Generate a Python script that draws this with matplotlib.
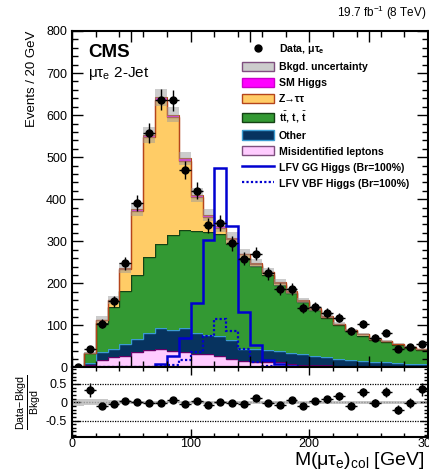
"""CMS LFV H->mu tau_e, 2-jet category: collinear mass with stacked backgrounds
and a (data - bkgd)/bkgd ratio panel underneath."""

import numpy as np
import matplotlib
matplotlib.use("Agg")
import matplotlib.pyplot as plt
from matplotlib.patches import Patch
from matplotlib.lines import Line2D
from matplotlib.ticker import MultipleLocator

plt.rcParams["font.family"] = ["Liberation Sans", "DejaVu Sans"]
plt.rcParams["mathtext.fontset"] = "custom"
plt.rcParams["mathtext.rm"] = "Liberation Sans"
plt.rcParams["mathtext.it"] = "Liberation Sans:italic"
plt.rcParams["mathtext.bf"] = "Liberation Sans:bold"

# ---- data, 10 GeV bins from 0 to 300 ----
bin_edges = np.arange(0, 301, 10)

misid = [0, 5, 19, 24, 27, 36, 41, 44, 39, 36, 33, 31, 28, 21, 16,
         13, 12, 12, 8, 7, 6, 5, 4, 3, 3, 2, 2, 2, 1, 1]
other = [1, 5, 18, 19, 28, 31, 40, 49, 51, 58, 48, 47, 46, 44, 29,
         31, 29, 27, 27, 25, 22, 20, 17, 16, 13, 12, 11, 8, 7, 7]
ttbar = [1, 24, 68, 102, 126, 153, 182, 200, 224, 232, 243, 245, 243, 228, 216,
         198, 180, 158, 141, 123, 108, 92, 79, 67, 60, 51, 47, 44, 39, 33]
ztautau = [0, 1, 8, 15, 54, 153, 285, 343, 281, 166, 81, 35, 15, 13, 8,
           4, 5, 5, 4, 4, 4, 4, 3, 3, 3, 3, 3, 3, 2, 2]
sm_higgs = [0, 0, 1, 1, 2, 3, 5, 6, 6, 5, 5, 4, 4, 3, 2,
            2, 2, 1, 1, 1, 1, 1, 1, 0, 0, 0, 0, 0, 0, 0]
bkg_unc = [0.10, 0.08, 0.08, 0.06, 0.05, 0.04, 0.035, 0.03, 0.03, 0.03, 0.04, 0.04, 0.04, 0.04, 0.04,
           0.04, 0.04, 0.04, 0.04, 0.04, 0.04, 0.04, 0.04, 0.04, 0.04, 0.04, 0.04, 0.04, 0.04, 0.04]

lfv_gg = [2, 2, 2, 2, 2, 2, 2, 9, 28, 70, 154, 303, 474, 336, 133,
          54, 17, 8, 4, 2, 1, 1, 1, 0, 0, 0, 0, 0, 0, 0]
lfv_vbf = [0, 0, 0, 0, 0, 0, 1, 3, 5, 19, 37, 74, 116, 87, 43,
           13, 4, 2, 1, 0, 0, 0, 0, 0, 0, 0, 0, 0, 0, 0]

data = [0, 45, 104, 157, 248, 391, 557, 637, 635, 469, 420, 338, 344, 295, 259,
        271, 224, 187, 187, 142, 144, 129, 118, 87, 103, 71, 83, 44, 49, 55]

# ratio panel, bins 10-300 GeV
ratio = [0.33, -0.11, -0.04, 0.04, 0.02, -0.01, -0.01, 0.05, -0.06, 0.04,
         -0.07, 0.02, -0.02, -0.05, 0.11, -0.01, -0.08, 0.05, -0.10, 0.03,
         0.08, 0.18, -0.09, 0.27, -0.02, 0.28, -0.20, -0.02, 0.35]

# ---- figure ----
fig = plt.figure(figsize=(4.29, 4.74), dpi=100)
ax = fig.add_axes([0.1678, 0.2247, 0.8298, 0.7099])
rax = fig.add_axes([0.1678, 0.0781, 0.8298, 0.1466])

centers = 0.5 * (bin_edges[:-1] + bin_edges[1:])

stack = [
    (misid, "#ffccff", "#660066"),
    (other, "#07335f", "#3b9bd1"),
    (ttbar, "#339933", "#144214"),
    (ztautau, "#ffcc66", "#b5451b"),
    (sm_higgs, "#ff00ff", None),
]
base = np.zeros(len(misid))
for vals, fc, ec in stack:
    top = base + np.array(vals, dtype=float)
    ax.stairs(top, bin_edges, baseline=base, fill=True, color=fc, lw=0)
    if ec:
        ax.stairs(top, bin_edges, color=ec, lw=1.0)
    base = top

total = base
ax.stairs(total, bin_edges, color="#b5451b", lw=0.8)
unc = np.array(bkg_unc)
ax.stairs(total * (1 + unc), bin_edges, baseline=total * (1 - unc), fill=True,
          color="#9a9a9a", alpha=0.5, lw=0)

ax.stairs(lfv_gg, bin_edges, color="#0000d0", lw=1.8)
ax.stairs(lfv_vbf, bin_edges, color="#0000d0", lw=1.6, linestyle=(0, (1, 1)))

d = np.array(data, dtype=float)
ax.errorbar(centers, d, xerr=5, yerr=np.sqrt(d), fmt="o", color="black",
            ms=5, elinewidth=1, capsize=0)

ax.set_xlim(0, 300)
ax.set_ylim(0, 800)
ax.set_xticklabels([])
ax.set_ylabel("Events / 20 GeV", fontsize=9.5, loc="top", labelpad=6)

ax.text(0.045, 0.935, "CMS", transform=ax.transAxes, fontsize=13.5,
        fontweight="bold", va="center")
ax.text(0.045, 0.875, r"$\mathregular{μτ_e}$ 2-Jet", transform=ax.transAxes,
        fontsize=11, va="center")
fig.text(0.995, 0.972, r"19.7 fb$^{\mathregular{-1}}$ (8 TeV)", ha="right",
         va="center", fontsize=8.5)

handles = [
    Line2D([], [], marker="o", color="black", ls="none", ms=5),
    Patch(facecolor="#cccccc", edgecolor="#7f4f7f"),
    Patch(facecolor="#ff00ff", edgecolor="#cc00cc"),
    Patch(facecolor="#ffcc66", edgecolor="#b5451b"),
    Patch(facecolor="#339933", edgecolor="#144214"),
    Patch(facecolor="#07335f", edgecolor="#3b9bd1"),
    Patch(facecolor="#ffccff", edgecolor="#7f4f7f"),
    Line2D([], [], color="#0000d0", lw=1.8),
    Line2D([], [], color="#0000d0", lw=1.6, ls=(0, (1, 1))),
]
labels = [
    r"Data, $\mathregular{μτ_e}$",
    "Bkgd. uncertainty",
    "SM Higgs",
    "Z→ττ",
    r"t$\bar{\mathregular{t}}$, t, $\bar{\mathregular{t}}$",
    "Other",
    "Misidentified leptons",
    "LFV GG Higgs (Br=100%)",
    "LFV VBF Higgs (Br=100%)",
]
ax.legend(handles, labels, loc="upper left", bbox_to_anchor=(0.478, 0.968),
          frameon=False, prop={"weight": "bold", "size": 7.6},
          handlelength=3.0, handleheight=0.95, labelspacing=0.55,
          handletextpad=0.45, borderpad=0, borderaxespad=0)

# ---- ratio panel ----
r = np.array(ratio)
rd = d[1:]
rax.stairs(unc, bin_edges, baseline=-unc, fill=True, color="#bbbbbb",
           alpha=0.8, lw=0)
rax.axhline(0, color="#999999", lw=1, ls=(0, (1, 1)))
for yv in (0.5, -0.5):
    rax.axhline(yv, color="black", lw=0.9, ls=(0, (1, 1)))
rax.errorbar(centers[1:], r, xerr=5, yerr=(1 + r) / np.sqrt(rd), fmt="o",
             color="black", ms=5, elinewidth=1, capsize=0)
rax.set_xlim(0, 300)
rax.set_ylim(-0.95, 0.95)
rax.set_ylabel(r"$\frac{\mathregular{Data\!-\!Bkgd}}{\mathregular{Bkgd}}$",
               fontsize=11, labelpad=2)
rax.set_xticks([0, 100, 200, 300])
rax.set_yticks([-0.5, 0, 0.5])
rax.set_yticklabels(["-0.5", "0", "0.5"])
fig.text(0.99, 0.02, r"M($\mathregular{μτ_e}$)$_{\mathregular{col}}$ [GeV]",
         ha="right", va="baseline", fontsize=14)

for a, ymin in ((ax, 20), (rax, 0.1)):
    a.xaxis.set_minor_locator(MultipleLocator(20))
    a.yaxis.set_minor_locator(MultipleLocator(ymin))
    a.tick_params(which="both", direction="in", top=True, right=True,
                  labelsize=9, width=1)
    a.tick_params(which="major", length=8)
    a.tick_params(which="minor", length=4.5)
    for s in a.spines.values():
        s.set_linewidth(1.5)
ax.yaxis.set_major_locator(MultipleLocator(100))
rax.tick_params(which="major", length=6)
rax.tick_params(which="minor", length=3)
rax.tick_params(axis="x", pad=1)

fig.savefig("out.png", dpi=100)
